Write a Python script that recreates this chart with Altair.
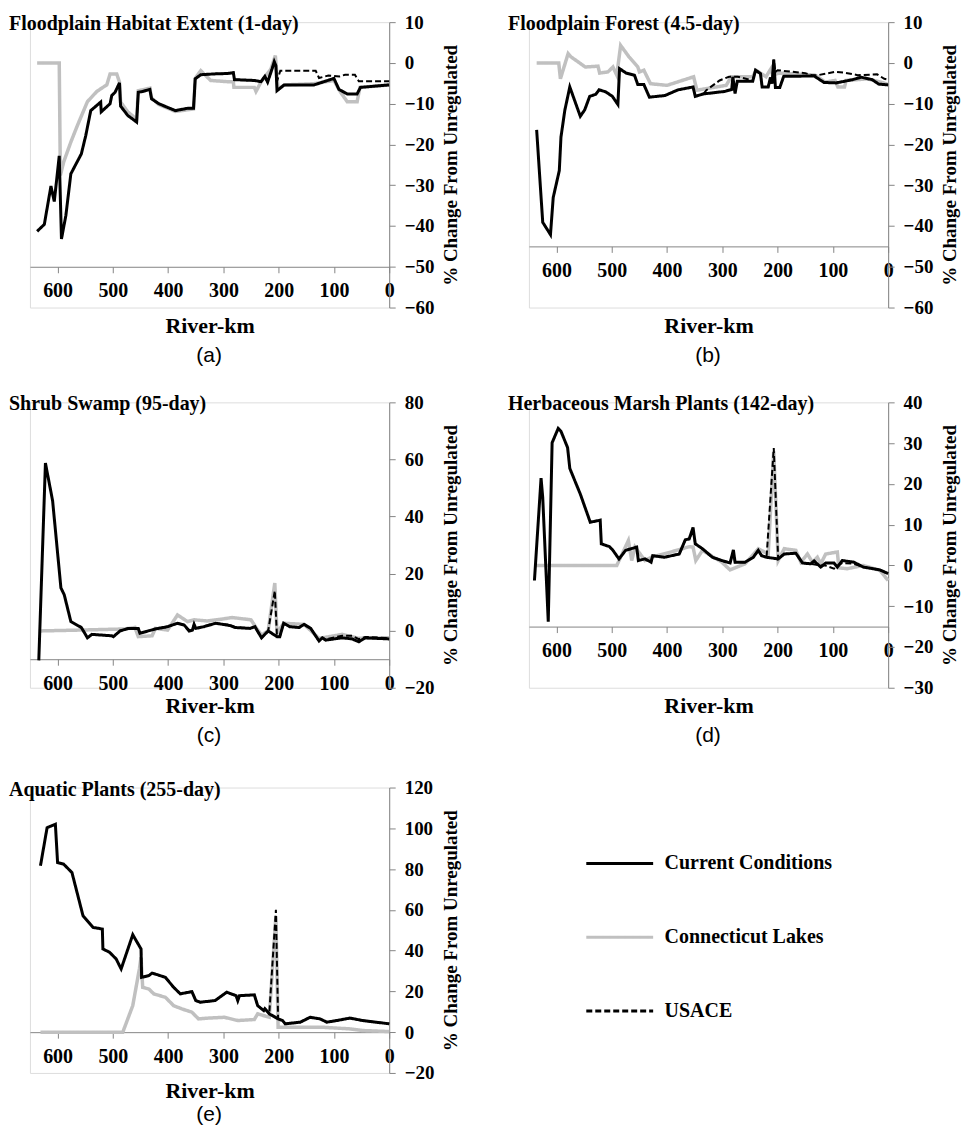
import altair as alt
import pandas as pd

W = 360
H = 286
SERIES = ["Current Conditions", "Connecticut Lakes", "USACE"]
COLORS = ["#000000", "#c0c0c0", "#000000"]
DASHES = [[1, 0], [1, 0], [6, 3]]
X_TICKS = [600, 500, 400, 300, 200, 100, 0]
SERIF = "Liberation Serif"
AXIS_GRAY = "#858585"

# ---------------- (a) Floodplain Habitat Extent (1-day) ----------------
a_cur_km = [637, 624, 612, 606, 597, 593, 585, 576, 557, 549, 540, 522, 521, 505, 502, 496, 488, 486, 473, 457,
            454, 446, 433, 430, 417, 387, 364, 354, 351, 341, 317, 293, 282, 280, 244, 232, 225, 220, 212, 208,
            205, 203, 190, 136, 118, 100, 91, 76, 58, 52, 0]
a_cur_val = [-41.3, -39.6, -30.2, -34.0, -22.8, -43.2, -37.4, -27.2, -22.3, -17.8, -11.7, -9.6, -12.0, -10.0, -8.0,
             -7.2, -4.9, -10.6, -12.9, -14.5, -7.2, -7.0, -6.5, -8.8, -10.0, -11.7, -11.1, -11.1, -3.9, -2.9,
             -2.7, -2.6, -2.4, -4.1, -4.3, -4.6, -3.3, -4.7, -1.5, 0.3, -0.7, -6.8, -5.4, -5.4, -4.6, -3.8,
             -6.5, -7.6, -7.6, -6.0, -5.4]
a_cl_km = [637, 597, 595, 589, 576, 564, 546, 529, 518, 511, 505, 493, 488, 486, 473, 457, 454, 446, 433, 430,
           417, 387, 354, 351, 341, 323, 293, 282, 281, 244, 241, 232, 214, 206, 201, 190, 136, 100, 88, 76,
           58, 53, 0]
a_cl_val = [0, 0, -27.6, -24.3, -19.4, -15.3, -9.5, -7.0, -6.0, -5.4, -2.7, -2.7, -4.7, -9.6, -12.0, -13.8, -6.8,
            -6.6, -6.2, -8.6, -10.2, -11.9, -11.3, -3.8, -1.9, -4.3, -4.6, -4.6, -6.0, -6.0, -7.0, -4.7, -1.5,
            1.8, -6.5, -5.4, -5.1, -4.3, -7.2, -9.5, -9.5, -6.0, -5.4]
a_us_km = [457, 454, 446, 433, 430, 417, 387, 364, 354, 351, 341, 317, 293, 282, 280, 244, 232, 225, 220, 212,
           208, 205, 203, 197, 133, 127, 110, 90, 80, 62, 55, 0]
a_us_val = [-14.5, -7.2, -7.0, -6.5, -8.8, -10.0, -11.7, -11.1, -11.1, -3.9, -2.9, -2.7, -2.6, -2.4, -4.1, -4.3,
            -4.6, -3.3, -4.7, -1.5, 0.3, -0.7, -4.5, -1.9, -1.9, -3.7, -3.1, -3.3, -2.9, -2.9, -4.5, -4.5]
a_yticks = [10, 0, -10, -20, -30, -40, -50, -60]

# ---------------- (b) Floodplain Forest (4.5-day) ----------------
b_cur_km = [636, 625, 611, 606, 595, 592, 585, 576, 557, 549, 540, 529, 523, 511, 499, 489, 486, 474, 459, 453,
            442, 432, 404, 380, 353, 349, 334, 296, 283, 281, 277, 273, 245, 240, 231, 228, 217, 213, 210, 207,
            204, 196, 189, 134, 116, 94, 64, 49, 29, 17, 0]
b_cur_val = [-16.4, -39.1, -42.1, -33.0, -26.4, -18.2, -11.6, -5.9, -13.1, -11.5, -8.2, -7.7, -6.6, -7.1, -8.2,
             -10.2, -1.4, -2.5, -3.0, -5.3, -5.3, -8.4, -8.0, -6.6, -5.9, -8.2, -7.6, -7.0, -6.5, -3.4, -7.5,
             -4.5, -4.5, -1.8, -2.6, -5.9, -5.9, -3.6, -5.1, 0.8, -6.0, -6.0, -3.3, -3.2, -4.8, -4.9, -4.1,
             -3.5, -4.1, -5.2, -5.4]
b_cl_km = [636, 596, 593, 579, 574, 548, 525, 522, 507, 498, 491, 484, 469, 453, 450, 442, 430, 400, 352, 346,
           329, 293, 284, 245, 239, 221, 212, 209, 198, 132, 114, 96, 91, 79, 76, 55, 38, 13, 0]
b_cl_val = [0, 0, -3.9, 2.3, 1.5, -1.0, -0.8, -2.5, -2.2, -1.0, -3.0, 4.3, 1.5, -1.0, -2.2, -1.8, -5.1, -5.5,
            -3.4, -6.7, -6.3, -5.5, -3.4, -3.4, -1.8, -3.4, -1.4, -3.0, -2.5, -3.0, -4.7, -4.3, -5.9, -5.9,
            -4.3, -4.1, -3.9, -4.7, -5.3]
b_us_km = [349, 334, 329, 305, 288, 272, 245, 240, 231, 228, 217, 213, 210, 207, 204, 200, 150, 138, 127, 96,
           79, 55, 20, 7, 0]
b_us_val = [-8.2, -7.6, -6.7, -4.3, -3.4, -3.4, -4.3, -1.8, -2.6, -5.9, -5.9, -3.6, -5.1, 0.8, -2.2, -1.8, -2.5,
            -3.0, -3.0, -2.2, -2.4, -3.0, -2.8, -3.9, -4.1]
b_yticks = [10, 0, -10, -20, -30, -40, -50, -60]

# ---------------- (c) Shrub Swamp (95-day) ----------------
c_cur_km = [634, 622, 609, 594, 588, 576, 557, 546, 538, 502, 499, 487, 472, 454, 451, 423, 401, 383, 371, 362,
            356, 353, 350, 335, 314, 288, 279, 252, 243, 231, 219, 203, 198, 191, 180, 163, 154, 142, 127,
            121, 115, 85, 67, 55, 43, 0]
c_cur_val = [-10.4, 58.7, 45.5, 15.0, 12.6, 3.2, 1.1, -2.5, -1.3, -1.8, -2.1, -0.1, 0.8, 0.8, -0.9, 0.6, 1.4,
             2.6, 2.0, -0.1, 0.2, 2.2, 0.8, 1.4, 2.6, 1.8, 1.1, 0.8, 1.4, -2.5, -0.1, -2.1, -2.1, 2.6, 1.4,
             1.1, 2.2, 0.8, -3.6, -2.5, -3.3, -2.5, -2.9, -3.9, -2.5, -2.9]
c_cl_km = [634, 561, 478, 460, 454, 429, 423, 401, 383, 365, 353, 329, 301, 284, 250, 240, 231, 219, 207, 203,
           191, 154, 127, 85, 55, 0]
c_cl_val = [-0.1, 0.2, 0.6, 1.1, -2.1, -1.8, 0.8, 0.2, 5.5, 3.2, 3.8, 3.4, 4.1, 4.6, 3.8, 0.8, -1.5, -0.1, 16.7,
            -0.9, 2.6, 2.2, -2.7, -1.3, -2.7, -2.5]
c_us_km = [487, 472, 454, 451, 423, 401, 383, 371, 362, 356, 353, 350, 335, 314, 288, 279, 252, 243, 231, 219,
           207, 203, 198, 191, 180, 163, 154, 142, 127, 121, 115, 85, 67, 55, 43, 0]
c_us_val = [-0.1, 0.8, 0.8, -0.9, 0.6, 1.4, 2.6, 2.0, 0.2, 0.5, 2.2, 0.8, 1.6, 2.6, 2.0, 1.3, 0.8, 1.4, -2.5,
            -0.1, 14.0, -2.1, -2.1, 2.6, 1.4, 1.1, 2.2, 0.8, -3.6, -2.5, -3.0, -1.8, -1.8, -3.0, -2.2, -2.6]
c_yticks = [80, 60, 40, 20, 0, -20]

# ---------------- (d) Herbaceous Marsh Plants (142-day) ----------------
d_cur_km = [640, 628, 625, 615, 608, 597, 592, 580, 576, 557, 539, 521, 519, 504, 498, 487, 475, 455, 452, 440,
            429, 426, 405, 378, 367, 360, 353, 349, 336, 318, 301, 286, 280, 277, 259, 244, 235, 229, 220,
            199, 188, 167, 155, 140, 134, 122, 113, 98, 92, 83, 62, 45, 15, 0]
d_cur_val = [-3.7, 21.4, 16.7, -13.8, 30.1, 33.6, 32.9, 28.9, 23.8, 17.5, 10.6, 11.1, 5.3, 4.6, 3.7, 1.6, 3.7,
             4.5, 1.2, 1.6, 0.8, 2.4, 2.0, 2.8, 6.3, 6.5, 9.3, 5.3, 4.1, 2.0, 1.2, 0.6, 3.8, 0.8, 0.8, 2.0,
             3.7, 2.4, 2.0, 1.6, 2.8, 3.0, 0.6, 0.4, 1.1, -0.4, 0.6, 0.6, -0.4, 1.2, 0.8, -0.4, -1.1, -2.0]
d_cl_km = [640, 491, 470, 464, 458, 440, 429, 393, 360, 353, 348, 336, 301, 286, 259, 235, 217, 207, 199, 188,
           167, 158, 146, 137, 128, 122, 113, 92, 89, 74, 45, 15, 0]
d_cl_val = [0, 0, 6.1, 1.2, 4.5, 1.2, 2.0, 3.3, 4.6, 4.5, 1.2, 3.7, 0.8, -1.1, 0.4, 4.1, 2.8, 28.0, 1.2, 4.1,
            3.7, 0.8, 2.8, 0.8, 2.0, 0.4, 2.8, 3.3, -0.6, -0.8, 0.0, -1.2, -3.7]
d_us_km = [429, 426, 405, 378, 367, 360, 353, 349, 336, 318, 301, 286, 280, 277, 259, 244, 235, 229, 220, 207,
           199, 188, 167, 155, 140, 122, 114, 98, 92, 83, 62, 45, 15, 0]
d_us_val = [0.8, 2.4, 2.0, 2.8, 6.3, 6.5, 8.5, 5.3, 4.1, 2.0, 1.2, 0.6, 3.5, 0.8, 0.8, 2.0, 3.7, 2.4, 2.0, 28.8,
            1.6, 2.8, 3.0, 0.6, 0.4, 0.0, 0.0, -0.8, -0.2, 0.6, 0.4, -0.4, -1.1, -2.0]
d_yticks = [40, 30, 20, 10, 0, -10, -20, -30]

# ---------------- (e) Aquatic Plants (255-day) ----------------
e_cur_km = [631, 619, 604, 600, 589, 574, 554, 536, 519, 518, 506, 494, 485, 464, 449, 448, 435, 429, 405, 390,
            378, 357, 350, 342, 315, 294, 286, 277, 274, 271, 244, 238, 227, 225, 217, 201, 193, 188, 161,
            143, 125, 113, 95, 71, 48, 0]
e_cur_val = [81.6, 100.3, 102.0, 83.2, 82.4, 78.3, 57.1, 51.4, 50.6, 40.8, 39.2, 35.9, 31.0, 47.8, 40.8, 26.9,
             27.7, 29.0, 26.9, 22.0, 18.8, 19.9, 15.5, 14.7, 15.5, 19.6, 18.8, 17.9, 15.5, 17.9, 18.3, 13.0,
             10.6, 11.5, 9.0, 6.5, 5.7, 4.1, 4.9, 7.3, 6.5, 4.9, 5.7, 6.9, 5.7, 4.1]
e_cl_km = [631, 482, 464, 452, 449, 446, 435, 426, 405, 390, 375, 357, 345, 327, 298, 274, 244, 238, 217, 205,
           201, 179, 119, 71, 48, 0]
e_cl_val = [0, 0, 13.0, 31.0, 36.7, 22.0, 21.2, 18.8, 17.1, 13.0, 11.4, 9.8, 6.5, 6.9, 7.3, 5.7, 6.2, 9.0, 7.3,
            57.0, 2.4, 2.4, 2.4, 1.6, 0.8, 0.3]
e_us_km = [449, 448, 435, 429, 405, 390, 378, 357, 350, 342, 315, 294, 286, 277, 274, 271, 244, 238, 227, 225,
           217, 205, 201, 193, 188, 161, 143, 125, 113, 95, 71, 48, 0]
e_us_val = [40.8, 26.9, 27.7, 29.0, 26.9, 22.0, 18.8, 19.9, 15.5, 14.7, 15.5, 19.6, 18.8, 17.9, 15.5, 17.9,
            18.3, 13.0, 10.6, 11.5, 9.0, 60.0, 6.5, 5.7, 4.1, 4.9, 7.3, 6.5, 4.9, 5.7, 6.9, 5.7, 4.1]
e_yticks = [120, 100, 80, 60, 40, 20, 0, -20]

TITLE_DX = 21
IND = dict(color="independent", strokeDash="independent")


def frame(km, val, name):
    return pd.DataFrame({"km": km, "val": val, "series": name, "idx": list(range(len(km)))})


def panel(title, letter, cur, cl, us, ydom, yticks, cross, legend=None, letter_offset=8):
    df = pd.concat([frame(cur[0], cur[1], SERIES[0]),
                    frame(cl[0], cl[1], SERIES[1]),
                    frame(us[0], us[1], SERIES[2])], ignore_index=True)
    x_off = -H * (cross - ydom[0]) / (ydom[1] - ydom[0])
    base = alt.Chart(df).encode(
        x=alt.X("km:Q",
                scale=alt.Scale(domain=[0, 650], reverse=True, nice=False, zero=False),
                axis=alt.Axis(values=X_TICKS, title="River-km", offset=x_off, labelFlush=False,
                              labelFont=SERIF, labelFontWeight="bold", labelFontSize=20, labelColor="black",
                              labelPadding=8, tickSize=6, tickColor=AXIS_GRAY, domainColor=AXIS_GRAY,
                              titleFont=SERIF, titleFontWeight="bold", titleFontSize=22, titleColor="black",
                              titleY=-x_off + 18, titleBaseline="middle", grid=False)),
        y=alt.Y("val:Q",
                scale=alt.Scale(domain=ydom, nice=False, zero=False),
                axis=alt.Axis(orient="right", values=yticks, title="% Change From Unregulated",
                              labelFont=SERIF, labelFontWeight="bold", labelFontSize=19, labelColor="black",
                              labelPadding=9, tickSize=6, tickColor=AXIS_GRAY, domainColor=AXIS_GRAY,
                              titleFont=SERIF, titleFontWeight="bold", titleFontSize=19, titleColor="black",
                              titleAngle=270, titleBaseline="top", titlePadding=8, grid=False)),
        color=alt.Color("series:N", scale=alt.Scale(domain=SERIES, range=COLORS), legend=legend),
        strokeDash=alt.StrokeDash("series:N", scale=alt.Scale(domain=SERIES, range=DASHES), legend=legend),
        order=alt.Order("idx:Q"),
    )
    gray = base.transform_filter(alt.datum.series == SERIES[1]).mark_line(strokeWidth=3.5)
    black = base.transform_filter(alt.datum.series == SERIES[0]).mark_line(strokeWidth=3)
    dash = base.transform_filter(alt.datum.series == SERIES[2]).mark_line(strokeWidth=2)
    heading = alt.Chart(pd.DataFrame({"label": [title]})).mark_text(
        align="left", baseline="alphabetic", font=SERIF, fontWeight="bold", fontSize=20, color="black"
    ).encode(x=alt.value(-TITLE_DX), y=alt.value(8), text="label:N")
    inner = alt.layer(gray, black, dash, heading).properties(width=W, height=H)
    return alt.vconcat(inner, title=alt.TitleParams(letter, orient="bottom", anchor="start", align="center",
                                                     frame="bounds", dx=TITLE_DX + W / 2, offset=letter_offset,
                                                     font="Liberation Sans", fontSize=21,
                                                     fontWeight="normal", color="black")).resolve_scale(**IND)


legend = alt.Legend(title=None, orient="none", legendX=556, legendY=41, symbolType="stroke",
                    symbolSize=4489, symbolStrokeWidth=3, labelFont=SERIF, labelFontWeight="bold",
                    labelFontSize=20, labelColor="black", labelOffset=10, labelLimit=0, rowPadding=29,
                    padding=0)

pa = panel("Floodplain Habitat Extent (1-day)", "(a)", (a_cur_km, a_cur_val), (a_cl_km, a_cl_val),
           (a_us_km, a_us_val), [-60, 10], a_yticks, -50)
pb = panel("Floodplain Forest (4.5-day)", "(b)", (b_cur_km, b_cur_val), (b_cl_km, b_cl_val),
           (b_us_km, b_us_val), [-60, 10], b_yticks, -45)
pc = panel("Shrub Swamp (95-day)", "(c)", (c_cur_km, c_cur_val), (c_cl_km, c_cl_val),
           (c_us_km, c_us_val), [-20, 80], c_yticks, -10)
pd_ = panel("Herbaceous Marsh Plants (142-day)", "(d)", (d_cur_km, d_cur_val), (d_cl_km, d_cl_val),
            (d_us_km, d_us_val), [-30, 40], d_yticks, -15)
pe = panel("Aquatic Plants (255-day)", "(e)", (e_cur_km, e_cur_val), (e_cl_km, e_cl_val),
           (e_us_km, e_us_val), [-20, 120], e_yticks, 0, legend=legend, letter_offset=2)

top_rows = alt.vconcat(
    alt.hconcat(pa, pb, spacing=45).resolve_scale(**IND),
    alt.hconcat(pc, pd_, spacing=45).resolve_scale(**IND),
    spacing=26,
).resolve_scale(**IND)

chart = alt.vconcat(top_rows, pe, spacing=31).resolve_scale(**IND).properties(
    padding={"left": 0, "top": 3, "right": 0, "bottom": 0}
).configure_view(stroke=None).configure(background="white")

chart.save("out.html", embed_options={"renderer": "svg", "actions": False})
